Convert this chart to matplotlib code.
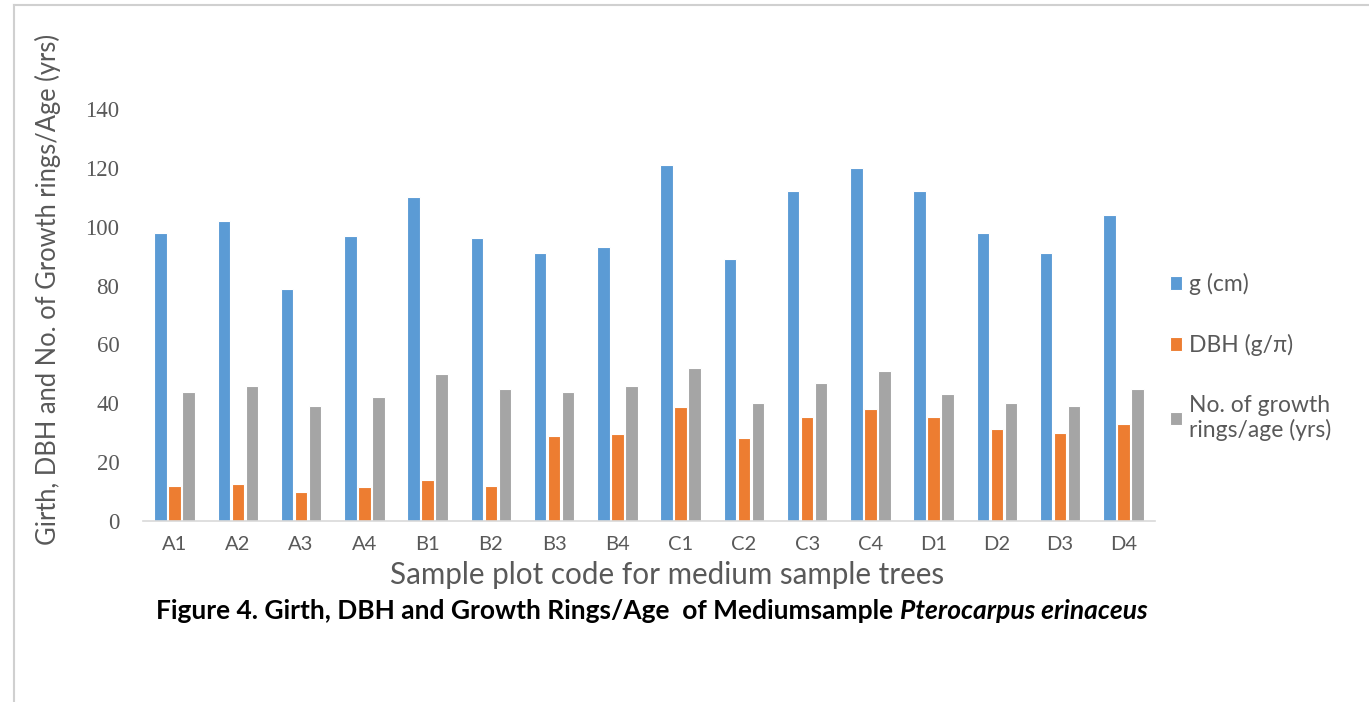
import matplotlib
matplotlib.use("Agg")
import matplotlib.pyplot as plt
import numpy as np
from matplotlib.lines import Line2D

categories = ["A1", "A2", "A3", "A4", "B1", "B2", "B3", "B4",
              "C1", "C2", "C3", "C4", "D1", "D2", "D3", "D4"]
girth = [98, 102, 79, 97, 110, 96, 91, 93, 121, 89, 112, 120, 112, 98, 91, 104]
dbh = [12, 12.5, 10, 11.5, 13.8, 12, 29, 29.4, 38.6, 28.1, 35.4, 38.2, 35.4, 31.1, 29.8, 32.8]
rings = [44, 46, 39, 42, 50, 45, 44, 46, 52, 40, 47, 51, 43, 40, 39, 45]
series_names = ["g (cm)", "DBH (g/\u03c0)", "No. of growth\nrings/age (yrs)"]
colors = ["#5B9BD5", "#ED7D31", "#A5A5A5"]
yticks = [0, 20, 40, 60, 80, 100, 120, 140]

W, H = 1369, 702
fig = plt.figure(figsize=(W / 100, H / 100), dpi=100)
fig.patch.set_facecolor("white")

ax = fig.add_axes([143 / W, 1 - 521 / H, (1155 - 143) / W, (521 - 109) / H])
x = np.arange(len(categories))
step = 0.222
bw = 0.20
for i, (vals, c, name) in enumerate(zip([girth, dbh, rings], colors, series_names)):
    ax.bar(x + (i - 1) * step, vals, width=bw, color=c, edgecolor="white",
           linewidth=0.8, label=name, zorder=2)

ax.set_xlim(-0.5, len(categories) - 0.5)
ax.set_ylim(0, 140)
ax.set_yticks(yticks)
ax.set_xticks(x)
ax.set_xticklabels(categories, fontfamily="Lato", fontsize=14.5, color="#595959")
for lab in ax.get_yticklabels():
    lab.set_fontfamily("Liberation Serif")
    lab.set_fontsize(16.5)
    lab.set_color("#595959")
ax.tick_params(axis="both", length=0)
ax.tick_params(axis="y", pad=17)
ax.tick_params(axis="x", pad=11)
for s in ["top", "right", "left"]:
    ax.spines[s].set_visible(False)
ax.spines["bottom"].set_color("#D9D9D9")
ax.spines["bottom"].set_linewidth(1.2)

fig.text(667 / W, 1 - 575 / H, "Sample plot code for medium sample trees",
         ha="center", va="center", fontsize=21.3, fontfamily="Lato", color="#595959")
fig.text(48 / W, 1 - 289 / H, "Girth, DBH and No. of Growth rings/Age (yrs)",
         ha="center", va="center", rotation=90, fontsize=18.4, fontfamily="Lato",
         color="#595959")

leg = ax.legend(loc="upper left", bbox_to_anchor=(1149 / W, 1 - 252 / H),
                bbox_transform=fig.transFigure, frameon=False,
                prop={"family": "Lato", "size": 16.5}, labelcolor="#595959",
                handlelength=0.55, handleheight=0.55, handletextpad=0.3,
                labelspacing=1.7)

# title, bold + bold italic part
t1 = "Figure 4. Girth, DBH and Growth Rings/Age  of Mediumsample "
t2 = "Pterocarpus erinaceus"
ty = 1 - 611 / H
fig.canvas.draw()
r = fig.canvas.get_renderer()
a = fig.text(0, ty, t1, fontsize=19, fontweight="bold", fontfamily="Lato", va="center")
b = fig.text(0, ty, t2, fontsize=19, fontweight="bold", fontstyle="italic",
             fontfamily="Lato", va="center")
w1 = a.get_window_extent(r).width
w2 = b.get_window_extent(r).width
start = 652 - (w1 + w2) / 2
a.set_x(start / W)
b.set_x((start + w1) / W)

# page frame lines
fig.add_artist(Line2D([14 / W, 1], [1 - 5 / H, 1 - 5 / H], color="#D0D0D0", lw=1.5,
                      transform=fig.transFigure))
fig.add_artist(Line2D([14 / W, 14 / W], [1 - 5 / H, 0], color="#D0D0D0", lw=1.5,
                      transform=fig.transFigure))

fig.savefig("out.png", dpi=100)
